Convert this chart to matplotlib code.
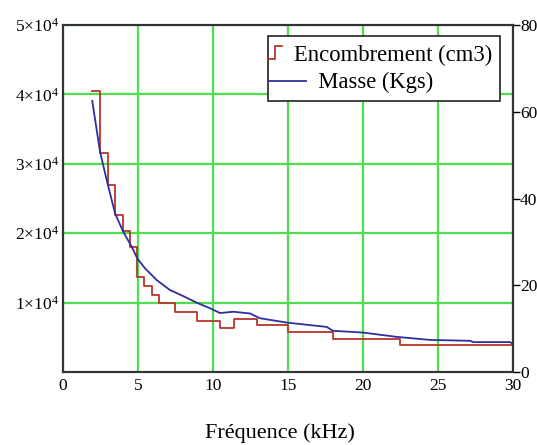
import matplotlib
matplotlib.use("Agg")
import matplotlib.pyplot as plt
from matplotlib.ticker import FixedLocator, FuncFormatter
from matplotlib.legend_handler import HandlerBase
from matplotlib.lines import Line2D

plt.rcParams['font.family'] = ['Liberation Serif', 'DejaVu Serif']
plt.rcParams['mathtext.fontset'] = 'custom'
plt.rcParams['mathtext.rm'] = 'Liberation Serif'
plt.rcParams['mathtext.it'] = 'Liberation Serif'

# Encombrement (cm3) - step series (left axis)
freq_steps = [1.95, 2.47, 2.98, 3.47, 3.98, 4.47, 4.95, 5.42, 5.91, 6.42,
              7.47, 8.91, 10.47, 11.43, 12.93, 14.97, 17.98, 22.5, 30.0]
encombrement = [40500, 31600, 27000, 22600, 20300, 18000, 13650, 12400, 11100, 10000,
                8700, 7400, 6300, 7600, 6800, 5800, 4700, 3900, 3900]

# Masse (Kgs) - right axis
freq_masse = [1.95, 2.47, 2.91, 3.47, 4.02, 4.58, 4.95, 5.47, 6.25, 7.13, 8.02, 8.91,
              9.8, 10.47, 11.35, 12.47, 13.13, 14.91, 17.58, 18.0, 20.0, 22.25,
              24.47, 27.13, 27.36, 29.8, 30.0]
masse = [62.5, 50.8, 44.3, 36.6, 32.3, 28.9, 26.2, 23.9, 21.2, 18.9, 17.5, 16.0,
         14.7, 13.6, 13.9, 13.5, 12.4, 11.4, 10.4, 9.5, 9.1, 8.1,
         7.4, 7.2, 6.9, 6.9, 6.5]

x_ticks = [0, 5, 10, 15, 20, 25, 30]
left_ticks = [10000, 20000, 30000, 40000, 50000]
right_ticks = [0, 20, 40, 60, 80]
series_labels = ['Encombrement (cm3)', 'Masse (Kgs)']

red = '#b8352c'
blue = '#2e2e9e'
green = '#4ddd4d'


class StepHandler(HandlerBase):
    def create_artists(self, legend, orig_handle, xdescent, ydescent, width, height,
                       fontsize, trans):
        xa = -xdescent - 5.0
        xb = -xdescent + 4.5
        xm = 0.5 * (xa + xb) - 0.5
        y0 = -ydescent
        ys_lo = y0 + 0.0 * height
        ys_hi = y0 + 1.05 * height
        ln = Line2D([xa, xm, xm, xb], [ys_lo, ys_lo, ys_hi, ys_hi],
                    color=orig_handle.get_color(), linewidth=1.3, transform=trans)
        return [ln]


class LongLineHandler(HandlerBase):
    def create_artists(self, legend, orig_handle, xdescent, ydescent, width, height,
                       fontsize, trans):
        xa = -xdescent - 5.0
        xb = -xdescent + 22.0
        y = -ydescent + 0.45 * height
        ln = Line2D([xa, xb], [y, y], color=orig_handle.get_color(),
                    linewidth=1.3, transform=trans)
        return [ln]


fig = plt.figure(figsize=(5.37, 4.45), dpi=100)
ax = fig.add_axes([0.1173, 0.164, 0.838, 0.7798])
ax2 = ax.twinx()

ax.set_xlim(0, 30)
ax.set_ylim(0, 50000)
ax2.set_ylim(0, 80)

ax.xaxis.set_major_locator(FixedLocator(x_ticks))
ax.yaxis.set_major_locator(FixedLocator(left_ticks))
ax.yaxis.set_major_formatter(FuncFormatter(lambda v, p: r'$%d{\times}10^{4}$' % round(v / 10000)))
ax2.yaxis.set_major_locator(FixedLocator(right_ticks))

ax.grid(True, color=green, linewidth=1.6)
ax.set_axisbelow(True)

l1, = ax.step(freq_steps, encombrement, where='post', color=red, linewidth=1.3,
              label=series_labels[0])
l2, = ax2.plot(freq_masse, masse, color=blue, linewidth=1.3, label=series_labels[1])

for a in (ax, ax2):
    for s in a.spines.values():
        s.set_color('#333333')
        s.set_linewidth(1.5)

ax.tick_params(axis='both', length=0, labelsize=12.5, pad=4)
ax.tick_params(axis='y', pad=3)
ax2.tick_params(axis='y', direction='out', length=5, width=1, labelsize=12.5, pad=0)

ax.set_xlabel('Fréquence (kHz)', fontsize=16)
ax.xaxis.set_label_coords(0.482, -0.147)

leg = ax2.legend([l1, l2], [series_labels[0], '    \u200a' + series_labels[1]],
                 handler_map={l1: StepHandler(), l2: LongLineHandler()},
                 loc='upper right', bbox_to_anchor=(0.972, 0.967), fontsize=16.3,
                 frameon=True, fancybox=False, framealpha=1, edgecolor='#222222',
                 handlelength=0.5, handleheight=0.5, handletextpad=0.3,
                 borderpad=0.36, borderaxespad=0, labelspacing=0.28)
leg.get_frame().set_linewidth(1.2)

fig.savefig('out.png', dpi=100)
